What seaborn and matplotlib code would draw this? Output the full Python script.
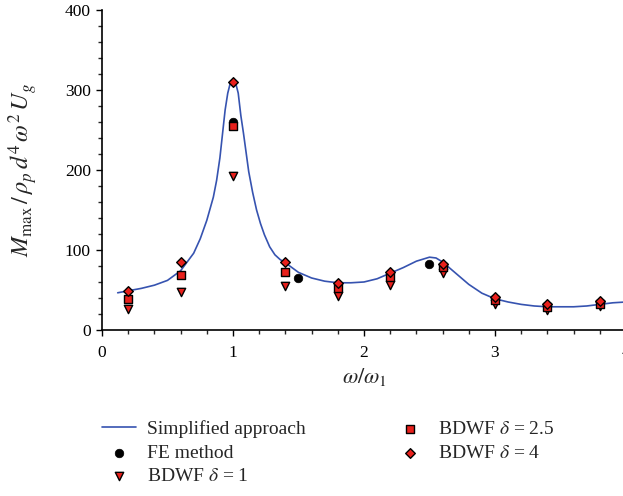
import numpy as np
import pandas as pd
import matplotlib
matplotlib.use("Agg")
import matplotlib.pyplot as plt
import seaborn as sns

# Simplified approach curve
curve_x = [0.12, 0.2, 0.3, 0.4, 0.5, 0.6, 0.7, 0.75, 0.8, 0.85, 0.875, 0.9, 0.92, 0.94,
           0.96, 0.98, 1.0, 1.02, 1.04, 1.06, 1.08, 1.1, 1.12, 1.15, 1.18, 1.21, 1.24,
           1.28, 1.32, 1.36, 1.4, 1.5, 1.6, 1.7, 1.8, 1.9, 2.0,
           2.1, 2.2, 2.3, 2.4, 2.5, 2.55, 2.6, 2.7, 2.8, 2.9, 3.0, 3.1, 3.2, 3.3, 3.4, 3.5,
           3.6, 3.7, 3.8, 3.9, 4.0]
curve_y = [46.5, 49, 52, 56, 62, 74, 96, 114, 137, 166, 187, 215, 245, 275,
           296, 309, 313, 309, 296, 268, 246, 222, 198, 172, 150, 133, 119,
           104, 94, 88, 84, 72, 65, 61, 59, 59, 60,
           64, 71, 78, 86, 91, 90, 85, 71, 57, 46, 39, 35, 32, 30, 29, 29,
           29, 30, 32, 34, 35]

# FE method
fe_x = [1.0, 1.5, 2.5]
fe_y = [260, 65, 83]

# BDWF points
bd_x = [0.2, 0.6, 1.0, 1.4, 1.8, 2.2, 2.6, 3.0, 3.4, 3.8]
bd1_y = [26, 48, 192, 55, 42, 56, 71, 33, 25, 30]
bd25_y = [39, 69, 255, 72, 52, 66, 79, 37.5, 29, 33]
bd4_y = [49, 85, 310, 85, 59, 72, 83, 41.5, 32, 36]

labels = ["Simplified approach", "FE method", r"BDWF $\delta$ = 1",
          r"BDWF $\delta$ = 2.5", r"BDWF $\delta$ = 4"]

sns.set_style("ticks")
plt.rcParams["font.family"] = ["Liberation Serif", "DejaVu Serif"]
plt.rcParams["mathtext.fontset"] = "stix"
plt.rcParams["xtick.major.size"] = 4.5
plt.rcParams["ytick.major.size"] = 4.5
plt.rcParams["xtick.minor.size"] = 3
plt.rcParams["ytick.minor.size"] = 3

fig = plt.figure(figsize=(6.23, 4.96), dpi=100)
ax = fig.add_axes([0.1637, 0.3347, 0.8411, 0.6452])

red = "#e8201c"
sns.lineplot(x=curve_x, y=curve_y, ax=ax, color="#3653b0", lw=1.2, sort=False,
             label=labels[0])
sns.scatterplot(x=fe_x, y=fe_y, ax=ax, color="black", marker="o", s=38,
                edgecolor="black", linewidth=0.5, label=labels[1], zorder=3)
sns.scatterplot(x=bd_x, y=bd1_y, ax=ax, color=red, marker="v", s=36,
                edgecolor="black", linewidth=1.0, label=labels[2], zorder=4)
sns.scatterplot(x=bd_x, y=bd25_y, ax=ax, color=red, marker="s", s=28,
                edgecolor="black", linewidth=1.0, label=labels[3], zorder=4)
sns.scatterplot(x=bd_x, y=bd4_y, ax=ax, color=red, marker="D", s=24,
                edgecolor="black", linewidth=1.0, label=labels[4], zorder=5)

ax.set_xlim(0, 4)
ax.set_ylim(0, 400)
ax.set_xticks([0, 1, 2, 3, 4])
ax.set_yticks([0, 100, 200, 300, 400])
ax.set_xticks(np.arange(0, 4.01, 0.2), minor=True)
ax.set_yticks(np.arange(0, 401, 20), minor=True)
ax.tick_params(labelsize=12.5, colors="black", width=1)
ax.tick_params(axis="x", pad=6)
ax.tick_params(axis="y", pad=3.5)
ax.tick_params(which="minor", width=1)
for s in ["left", "bottom"]:
    ax.spines[s].set_linewidth(1.2)
    ax.spines[s].set_color("black")
sns.despine(ax=ax)

ax.set_xlabel(r"$\omega/\omega_1$", fontsize=16, labelpad=4)
ax.set_ylabel(r"$M_{\max}\,/\,\rho_p\, d^4\, \omega^2\, U_g$", fontsize=17.5, labelpad=18)

handles, labs = ax.get_legend_handles_labels()
ax.legend_.remove()
fig.legend(handles, labs, loc="upper left", bbox_to_anchor=(0.142, 0.18),
           ncol=2, frameon=False, fontsize=14, handlelength=1.75,
           columnspacing=4.5, labelspacing=0.3, handletextpad=0.55,
           borderpad=0.2)

fig.savefig("out.png", dpi=100)
